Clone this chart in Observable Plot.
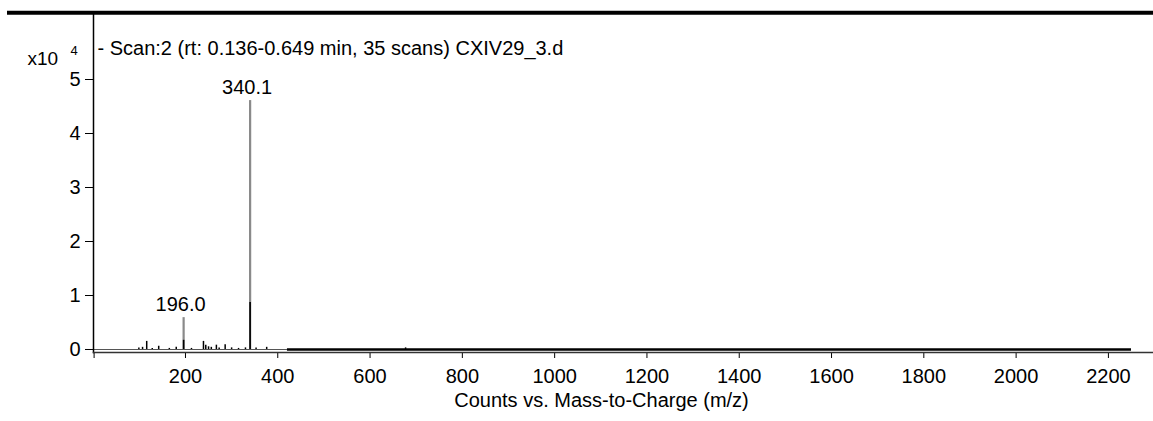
<!DOCTYPE html>
<html>
<head>
<meta charset="utf-8">
<script src="https://cdn.jsdelivr.net/npm/d3@7"></script>
<script src="https://cdn.jsdelivr.net/npm/@observablehq/plot@0.6"></script>
<style>
  html, body { margin: 0; padding: 0; background: #fff; }
  svg { display: block; }
</style>
</head>
<body>
<div id="chart"></div>
<script>
// ---- data (intensity in units of 10^4 counts) ----
const peakMz        = [99, 107, 116, 128, 142, 165, 180, 196.0, 213, 239, 244, 250, 256, 267, 273, 286, 300, 315, 330, 340.1, 353, 376, 677];
const peakIntensity = [0.03, 0.04, 0.15, 0.02, 0.06, 0.02, 0.04, 0.59, 0.02, 0.15, 0.08, 0.05, 0.04, 0.08, 0.03, 0.09, 0.03, 0.02, 0.03, 4.61, 0.03, 0.04, 0.03];
const labeledMz     = [196.0, 340.1];
const coreMz        = [196.0, 340.1];
const coreIntensity = [0.17, 0.87];
const baselineStart = [2, 421];
const baselineEnd   = [421, 2250];
const baselineKind  = ["thin", "noise"];
const xTicks = [2, 200, 400, 600, 800, 1000, 1200, 1400, 1600, 1800, 2000, 2200];
const yTicks = [0, 1, 2, 3, 4, 5];
const titleText = "- Scan:2 (rt: 0.136-0.649 min, 35 scans) CXIV29_3.d";
const xLabel = "Counts vs. Mass-to-Charge (m/z)";

const peaks = peakMz.map((mz, i) => ({mz, v: peakIntensity[i], major: labeledMz.includes(mz)}));
const cores = coreMz.map((mz, i) => ({mz, v: coreIntensity[i]}));
const baselines = baselineStart.map((s, i) => ({s, e: baselineEnd[i], kind: baselineKind[i]}));

const font = "'Liberation Sans', Arial, sans-serif";
const fs = 20;

const chart = Plot.plot({
  width: 1153,
  height: 421,
  marginLeft: 93,
  marginRight: 0,
  marginTop: 14,
  marginBottom: 69,
  style: {fontFamily: font, fontSize: fs + "px", color: "#000", background: "#fff", overflow: "visible"},
  x: {domain: [0.7, 2297.7]},
  y: {domain: [-0.0556, 6.204]},
  marks: [
    // baseline of the spectrum
    Plot.ruleY(baselines.filter(d => d.kind === "thin"), {x1: "s", x2: "e", y: 0, stroke: "#555", strokeWidth: 1.2}),
    Plot.ruleY(baselines.filter(d => d.kind === "noise"), {x1: "s", x2: "e", y: 0, stroke: "#000", strokeWidth: 2.5}),
    // peaks
    Plot.ruleX(peaks.filter(d => !d.major), {x: "mz", y1: 0, y2: "v", stroke: "#000", strokeWidth: 1.5}),
    Plot.ruleX(peaks.filter(d => d.major), {x: "mz", y1: 0, y2: "v", stroke: "#8a8a8a", strokeWidth: 2.2}),
    Plot.ruleX(cores, {x: "mz", y1: 0, y2: "v", stroke: "#000", strokeWidth: 1.6}),
    // peak labels
    Plot.text(peaks.filter(d => d.major), {x: "mz", y: "v", text: d => d.mz.toFixed(1), dy: -13.4, dx: -3, fontSize: fs, fill: "#000"}),
    // axes
    Plot.axisY({ticks: yTicks, tickSize: 8, tickPadding: 5, label: null, fontSize: fs, tickFormat: d => String(d)}),
    Plot.axisX({ticks: xTicks, tickSize: 6, tickPadding: 10, label: null, fontSize: fs, tickFormat: d => d % 200 === 0 ? String(d) : ""}),
    Plot.frame({anchor: "left", stroke: "#000", strokeWidth: 1.5}),
    Plot.frame({anchor: "bottom", stroke: "#333", strokeWidth: 1.5}),
    // texts
    Plot.text([titleText], {frameAnchor: "top-left", textAnchor: "start", dx: 4, dy: 26.6, fontSize: fs, fill: "#000"}),
    Plot.text(["x10"], {frameAnchor: "top-left", textAnchor: "start", dx: -66, dy: 36.6, fontSize: 19, fill: "#000"}),
    Plot.text(["4"], {frameAnchor: "top-left", textAnchor: "start", dx: -23, dy: 31, fontSize: 13, fill: "#000"}),
    Plot.text([xLabel], {frameAnchor: "bottom", dx: -22, dy: 54.6, fontSize: fs, fill: "#000"})
  ]
});

// heavy top border of the panel
d3.select(chart).append("line")
  .attr("x1", 7).attr("x2", 1153).attr("y1", 12.8).attr("y2", 12.8)
  .attr("stroke", "#000").attr("stroke-width", 4);

document.getElementById("chart").appendChild(chart);
</script>
</body>
</html>
